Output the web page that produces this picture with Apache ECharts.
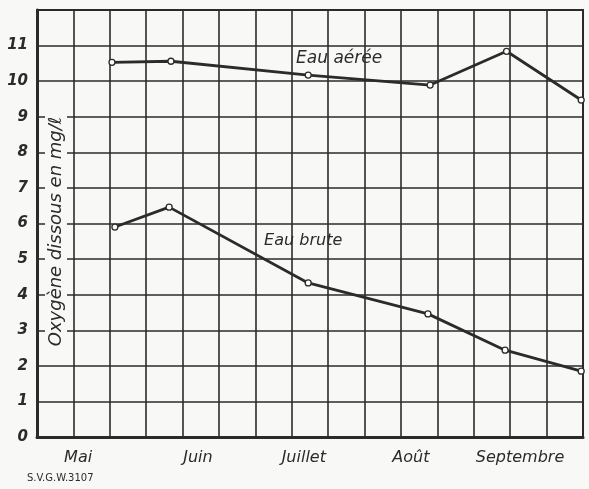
<!DOCTYPE html>
<html><head><meta charset="utf-8">
<script src="https://cdn.jsdelivr.net/npm/echarts@6/dist/echarts.min.js"></script>
<style>html,body{margin:0;padding:0;background:#f8f8f6;}#c{width:589px;height:489px;}</style>
</head><body><div id="c"></div>
<script>
// x in grid units (15 columns across the season), y in mg/l
const xAeree = [2.06, 3.68, 7.45, 10.8, 12.9, 14.95];
const yAeree = [10.53, 10.56, 10.17, 9.89, 10.84, 9.47];
const xBrute = [2.14, 3.63, 7.45, 10.74, 12.86, 14.95];
const yBrute = [5.9, 6.46, 4.33, 3.46, 2.44, 1.85];
const monthNames = ['Mai', 'Juin', 'Juillet', 'Août', 'Septembre'];
const monthPos = [1.13, 4.42, 7.33, 10.27, 13.27];
const yTicks = [0,1,2,3,4,5,6,7,8,9,10,11];

const ink = '#2b2b2b';
const bg = '#f8f8f6';
const font = '"DejaVu Sans", sans-serif';
function pts(xs, ys){ return xs.map((x,i)=>[x, ys[i]]); }

const aeree = pts(xAeree, yAeree);
aeree[2] = {value: aeree[2], label:{show:true, position:'top', offset:[31,1], formatter:'Eau aérée',
  fontStyle:'italic', fontSize:17, color:ink, fontFamily:font}};
const brute = pts(xBrute, yBrute);
brute[2] = {value: brute[2], label:{show:true, position:'top', offset:[-5,-25], formatter:'Eau brute',
  fontStyle:'italic', fontSize:16, color:ink, fontFamily:font}};

const chart = echarts.init(document.getElementById('c'), null, {renderer:'canvas'});
chart.setOption({
  backgroundColor:bg,
  animation:false,
  title:{text:'S.V.G.W.3107', left:22, top:468, textStyle:{fontSize:10, fontWeight:'normal', color:ink, fontFamily:font}},
  grid:{left:37, right:6, top:10, bottom:52, containLabel:false, outerBoundsMode:'none',
    show:true, borderColor:ink, borderWidth:2, backgroundColor:'transparent'},
  xAxis:{type:'value', min:0, max:15, interval:1,
    axisLine:{show:true, lineStyle:{color:ink, width:3}},
    axisTick:{show:false},
    splitLine:{show:true, lineStyle:{color:ink, width:1.6}},
    axisLabel:{customValues: monthPos, margin:13,
      formatter:(v)=>{ const i = monthPos.findIndex(p=>Math.abs(p-v)<1e-6); return i>=0?monthNames[i]:''; },
      fontStyle:'italic', fontSize:16, color:ink, fontFamily:font}
  },
  yAxis:{type:'value', min:0, max:12, interval:1,
    axisLine:{show:true, lineStyle:{color:ink, width:3}},
    axisTick:{show:false},
    splitLine:{show:true, lineStyle:{color:ink, width:1.6}},
    axisLabel:{customValues: yTicks, margin:9, fontStyle:'italic', fontWeight:'bold', fontSize:15, color:ink, fontFamily:font},
    name:'Oxygène dissous en mg/ℓ', nameLocation:'middle', nameRotate:90, nameGap:-30, nameMoveOverlap:false,
    nameTextStyle:{fontStyle:'italic', fontSize:18, color:ink, fontFamily:font, backgroundColor:bg, padding:[2,20,2,4]}
  },
  series:[
    {type:'line', name:'Eau aérée', data:aeree, symbol:'circle', symbolSize:6, showAllSymbol:true,
      lineStyle:{color:ink, width:2.8}, itemStyle:{color:'#ffffff', borderColor:ink, borderWidth:1.3}, z:5},
    {type:'line', name:'Eau brute', data:brute, symbol:'circle', symbolSize:6, showAllSymbol:true,
      lineStyle:{color:ink, width:2.8}, itemStyle:{color:'#ffffff', borderColor:ink, borderWidth:1.3}, z:5}
  ]
});
</script></body></html>
